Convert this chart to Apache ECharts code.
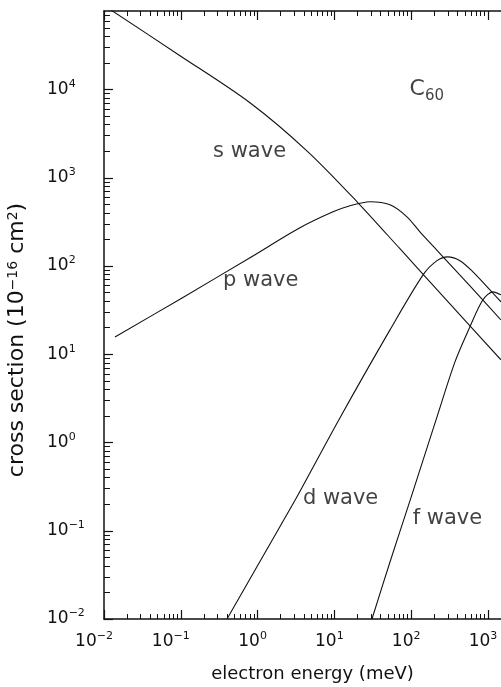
<!DOCTYPE html>
<html>
<head>
<meta charset="utf-8">
<script src="https://cdn.jsdelivr.net/npm/echarts@6/dist/echarts.min.js"></script>
<style>
  html, body { margin: 0; padding: 0; background: #fff; }
  #main { width: 501px; height: 687px; }
</style>
</head>
<body>
<div id="main"></div>
<script>
// electron energy (meV) and cross section (10^-16 cm2)
const sEnergy = [0.01, 0.0977, 0.796, 4.53, 20.3, 71.4, 320, 1476]
const sCross = [8.98e4, 2.42e4, 7.08e3, 1.97e3, 521, 157, 37.2, 8.65]

const pEnergy = [0.0139, 0.104, 0.796, 3.56, 9.6, 16.0, 29.1, 53.0, 88.2, 130, 223, 583, 1476]
const pCross = [15.7, 43.5, 124, 271, 411, 482, 535, 494, 361, 244, 147, 59.7, 24.5]

const dEnergy = [0.40, 1.96, 3.26, 11.8, 53, 143, 217, 301, 432, 638, 1062, 1476]
const dCross = [0.01, 0.112, 0.243, 1.90, 18.9, 79.4, 115, 127, 115, 86, 53.7, 39.3]

const fEnergy = [30.9, 53, 96.4, 217, 372, 583, 861, 1162, 1476]
const fCross = [0.01, 0.0443, 0.218, 1.95, 8.2, 20.5, 41.4, 50.9, 47.1]

// decades shown on the axes (exponents of 10)
const xTickExp = [-2, -1, 0, 1, 2, 3]
const yTickExp = [-2, -1, 0, 1, 2, 3, 4]
const minorFactors = [2, 3, 4, 5, 6, 7, 8, 9]

// visible range, in log10 units
const xMin = -2, xMax = 3.17
const yMin = -2, yMax = 4.89

const FONT = 'DejaVu Sans'
const INK = '#111'

const toPairs = (xs, ys) => xs.map((x, i) => [Math.log10(x), Math.log10(ys[i])])

const minorTicks = (lo, hi) => {
  const out = []
  for (let d = Math.floor(lo); d < hi; d++) {
    minorFactors.forEach(f => {
      const v = d + Math.log10(f)
      if (v > lo && v < hi) out.push(v)
    })
  }
  return out
}

const expText = n => (n < 0 ? '\u2212' + (-n) : String(n))

const powRich = {
  b: { fontFamily: FONT, fontSize: 17, color: INK, lineHeight: 22, verticalAlign: 'middle' },
  s: { fontFamily: FONT, fontSize: 11, color: INK, verticalAlign: 'top' },
  g1: { width: 10 },
  g2: { width: 20 },
}

const lineStyle = { color: '#111', width: 1.1 }
const axisLine = { show: true, onZero: false, lineStyle: { color: '#111', width: 1.5 } }

const majorX = (position, labels) => ({
  type: 'value', position, min: xMin, max: xMax, interval: 1,
  axisLine,
  splitLine: { show: false },
  axisTick: { show: true, inside: true, length: 9, customValues: xTickExp, lineStyle: { color: '#111', width: 1.2 } },
  axisLabel: labels ? {
    show: true, margin: 12, customValues: xTickExp, rich: powRich,
    formatter: v => {
      const n = Math.round(v)
      return `{b|10}{s|${expText(n)}}{${n < 0 ? 'g2' : 'g1'}| }`
    },
  } : { show: false },
})

const minorX = position => ({
  type: 'value', position, min: xMin, max: xMax,
  axisLine: { show: false, onZero: false },
  splitLine: { show: false },
  axisTick: { show: true, inside: true, length: 5, customValues: minorTicks(xMin, xMax), lineStyle: { color: '#111', width: 1 } },
  axisLabel: { show: false },
})

const curve = (name, data) => ({
  name, type: 'line', data, showSymbol: false, silent: true,
  smooth: 0.3, lineStyle,
})

const chart = echarts.init(document.getElementById('main'))
chart.setOption({
  animation: false,
  backgroundColor: '#fff',
  grid: { left: 104, top: 11, right: 0, bottom: 68, outerBoundsMode: 'none' },
  xAxis: [
    Object.assign(majorX('bottom', true), {
      name: 'electron energy (meV)',
      nameLocation: 'middle',
      nameGap: 46,
      nameTextStyle: { fontFamily: FONT, fontSize: 18, color: INK, padding: [0, 0, 0, 20] },
    }),
    minorX('bottom'),
    majorX('top', false),
    minorX('top'),
  ],
  yAxis: [
    {
      type: 'value', position: 'left', min: yMin, max: yMax, interval: 1,
      axisLine,
      splitLine: { show: false },
      axisTick: { show: true, inside: true, length: 9, customValues: yTickExp, lineStyle: { color: '#111', width: 1.2 } },
      axisLabel: {
        show: true, align: 'left', margin: 57, customValues: yTickExp, rich: powRich,
        formatter: v => `{b|10}{s|${expText(Math.round(v))}}`,
      },
      name: 'cross section (10{s|\u221216} cm{s|2})',
      nameLocation: 'middle',
      nameRotate: 90,
      nameGap: 76,
      nameTextStyle: {
        fontFamily: FONT, fontSize: 22, color: INK, padding: [0, 50, 0, 0],
        rich: { s: { fontFamily: FONT, fontSize: 14, color: INK, verticalAlign: 'top' } },
      },
    },
    {
      type: 'value', position: 'left', min: yMin, max: yMax,
      axisLine: { show: false, onZero: false },
      splitLine: { show: false },
      axisTick: { show: true, inside: true, length: 6, customValues: minorTicks(yMin, yMax), lineStyle: { color: '#111', width: 1 } },
      axisLabel: { show: false },
    },
  ],
  series: [
    curve('s wave', toPairs(sEnergy, sCross)),
    curve('p wave', toPairs(pEnergy, pCross)),
    curve('d wave', toPairs(dEnergy, dCross)),
    curve('f wave', toPairs(fEnergy, fCross)),
    {
      // curve names and the molecule tag, anchored in log10 data coordinates
      type: 'scatter', symbolSize: 0, silent: true,
      label: {
        show: true, position: 'right', distance: 0,
        fontFamily: FONT, fontSize: 21, color: INK,
        formatter: p => p.name,
        rich: {
          c: { fontFamily: FONT, fontSize: 22, color: INK, lineHeight: 28, verticalAlign: 'middle' },
          sub: { fontFamily: FONT, fontSize: 15, color: INK, verticalAlign: 'bottom' },
        },
      },
      data: [
        { name: 's wave', value: [-0.58, 3.3] },
        { name: 'p wave', value: [-0.45, 1.83] },
        { name: 'd wave', value: [0.59, -0.64] },
        { name: 'f wave', value: [2.02, -0.86] },
        { name: '{c|C}{sub|60}', value: [1.98, 4.0] },
      ],
    },
  ],
})
</script>
</body>
</html>
